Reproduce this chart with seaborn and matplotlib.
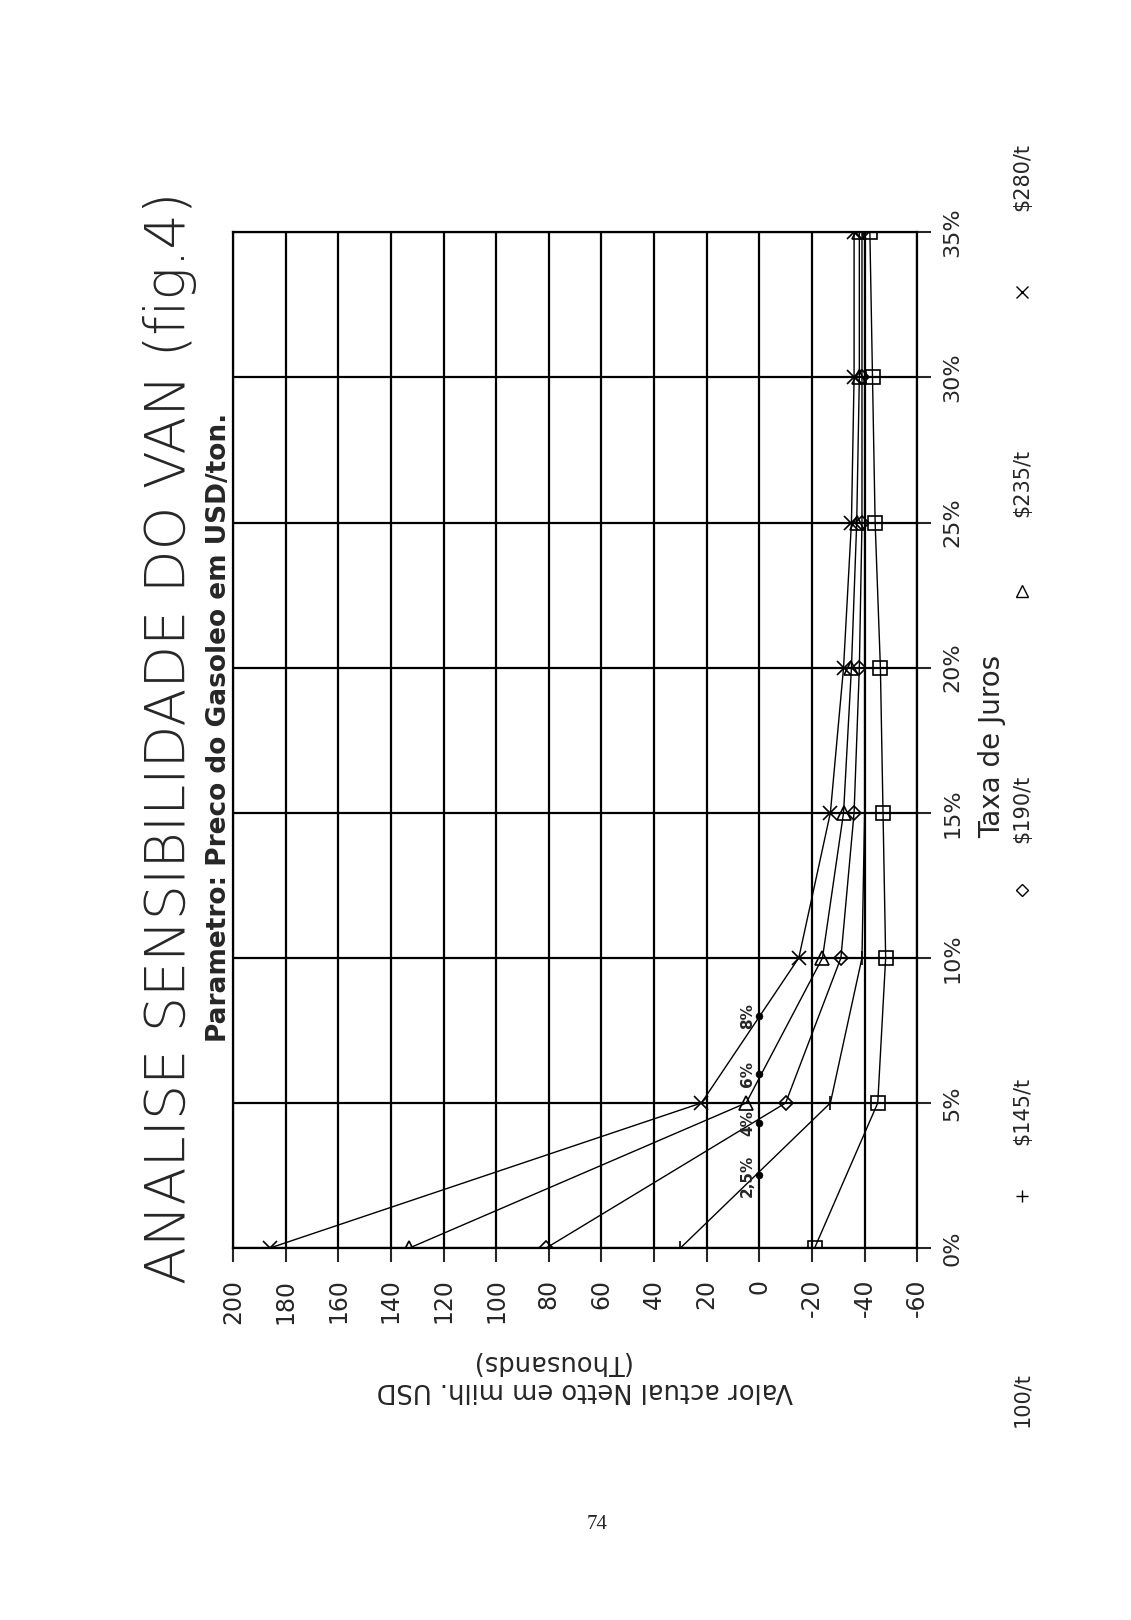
import seaborn as sns
import matplotlib.pyplot as plt
import numpy as np
import pandas as pd

# taxa de juros (%) e VAN (milhares USD) por preco do gasoleo
rates = [0, 5, 10, 15, 20, 25, 30, 35]
van_280 = [186, 22, -15, -27, -32, -35, -36, -36]
van_235 = [133, 5, -24, -32, -35, -37, -38, -38]
van_190 = [81, -10, -31, -36, -38, -39, -39, -39]
van_145 = [30, -27, -39, -40, -40, -40, -40, -40]
van_100 = [-21, -45, -48, -47, -46, -44, -43, -42]

# pontos de TIR (VAN = 0)
tir_rates = [8.0, 6.0, 4.3, 2.5]
tir_labels = ["8%", "6%", "4%", "2,5%"]

value_ticks = [-60, -40, -20, 0, 20, 40, 60, 80, 100, 120, 140, 160, 180, 200]
rate_tick_labels = ["0%", "5%", "10%", "15%", "20%", "25%", "30%", "35%"]

sns.set_style("white")
plt.rcParams["font.family"] = ["DejaVu Sans"]

fig = plt.figure(figsize=(11.31, 16.2), dpi=100)
ax = fig.add_axes([0.206, 0.2296, 0.605, 0.627])

series = [
    (van_280, "x", "black", "$280/t"),
    (van_235, "^", "none", "$235/t"),
    (van_190, "D", "none", "$190/t"),
    (van_145, "+", "black", "$145/t"),
    (van_100, "s", "none", "100/t"),
]

for vals, mk, fc, lab in series:
    df = pd.DataFrame({"van": vals, "taxa": rates})
    sns.lineplot(data=df, x="van", y="taxa", sort=False, estimator=None,
                 errorbar=None, ax=ax, color="black", lw=1.0, marker=mk,
                 markersize=10 if mk != "D" else 7, markerfacecolor=fc,
                 markeredgecolor="black", markeredgewidth=1.2)

# pontos de TIR sobre a linha zero
sns.scatterplot(x=[0] * len(tir_rates), y=tir_rates, ax=ax, color="black", s=25,
                edgecolor="black")
for r, t in zip(tir_rates, tir_labels):
    ax.text(4.5, r, t, rotation=90, ha="center", va="center", fontsize=11,
            fontweight="bold")

ax.set_xlim(200, -60)
ax.set_ylim(0, 35)
ax.set_xticks(value_ticks)
ax.set_xticklabels([str(v) for v in value_ticks])
ax.set_yticks(rates)
ax.set_yticklabels(rate_tick_labels)
ax.yaxis.tick_right()
ax.grid(True, color="black", lw=1.6)
for s in ax.spines.values():
    s.set_visible(True)
    s.set_color("black")
    s.set_linewidth(1.6)
ax.tick_params(axis="x", bottom=True, length=10, width=1.5, pad=12,
               labelrotation=90, labelsize=17)
ax.tick_params(axis="y", right=True, left=False, length=10, width=1.5, pad=8,
               labelrotation=90, labelsize=16)
for t in ax.get_yticklabels():
    t.set_va("center")
ax.set_xlabel("")
ax.set_ylabel("")

# titulos
fig.text(0.150, 0.5444, "ANALISE SENSIBILIDADE DO VAN (fig.4)", rotation=90,
         ha="center", va="center", fontsize=40, fontweight="light")
fig.text(0.1936, 0.551, "Parametro: Preco do Gasoleo em USD/ton.", rotation=90,
         ha="center", va="center", fontsize=19, fontweight="bold")

# eixo do valor (texto invertido)
fig.text(0.517, 0.142, "Valor actual Netto em milh. USD", rotation=180,
         ha="center", va="center", fontsize=18.5)
fig.text(0.486, 0.159, "(Thousands)", rotation=180, ha="center", va="center",
         fontsize=18.5)

# eixo da taxa
fig.text(0.877, 0.5395, "Taxa de Juros", rotation=90, ha="center", va="center",
         fontsize=20)

# legenda
leg_marker_y = [0.820, 0.635, 0.4506, 0.262]
leg_label_y = [0.891, 0.702, 0.501, 0.314, 0.136]
for i, (vals, mk, fc, lab) in enumerate(series):
    if i < len(leg_marker_y):
        ax.plot([0.9036], [leg_marker_y[i]], marker=mk, color="black",
                markerfacecolor=fc, markersize=9 if mk != "D" else 6,
                transform=fig.transFigure, clip_on=False, lw=0)
    fig.text(0.9036, leg_label_y[i], lab, rotation=90, ha="center", va="center",
             fontsize=15)

fig.text(0.528, 0.059, "74", family="Liberation Serif", fontsize=15,
         ha="center", va="center")

fig.savefig("out.png", dpi=100)
